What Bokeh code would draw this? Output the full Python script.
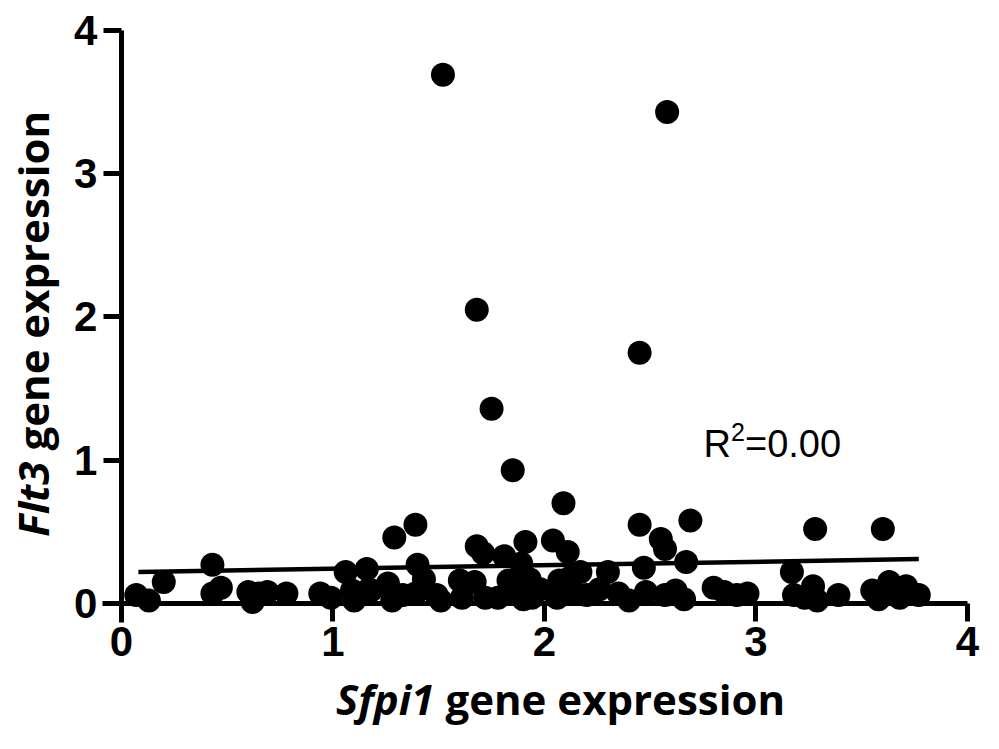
import math
from bokeh.plotting import figure
from bokeh.models import Label, FixedTicker, Range1d, ColumnDataSource, LinearAxis
from bokeh.embed import file_html
from bokeh.resources import INLINE

# Sfpi1 (x) vs Flt3 (y) gene expression
sfpi1 = [0.07, 0.13, 0.20, 0.43, 0.43, 0.47, 0.60, 0.62, 0.65, 0.69, 0.78, 0.94, 0.99,
         1.06, 1.16, 1.09, 1.17, 1.10, 1.18, 1.26, 1.29, 1.39, 1.40, 1.33, 1.28, 1.43,
         1.39, 1.49, 1.51, 1.60, 1.61, 1.68, 1.71, 1.67, 1.72, 1.81, 1.83, 1.78, 1.91,
         1.89, 1.86, 1.90, 1.93, 2.09, 2.04, 2.11, 2.45, 2.55, 2.57, 2.47, 2.07, 2.17,
         2.30, 2.26, 2.35, 2.48, 1.94, 2.06, 2.20, 2.57, 1.98, 2.13, 2.40, 2.12,
         2.69, 2.67, 2.62, 2.66, 2.80, 2.85, 2.91, 2.96, 3.17, 3.18,
         3.28, 3.60, 3.27, 3.29, 3.39, 3.55, 3.63, 3.58, 3.71, 3.68, 3.77, 3.23,
         1.52, 2.58, 1.68, 1.75, 1.85, 2.45]
flt3 = [0.06, 0.02, 0.15, 0.27, 0.07, 0.11, 0.08, 0.01, 0.07, 0.08, 0.07, 0.07, 0.04,
        0.22, 0.24, 0.09, 0.10, 0.02, 0.09, 0.14, 0.46, 0.55, 0.27, 0.06, 0.02, 0.17,
        0.07, 0.06, 0.02, 0.16, 0.04, 0.40, 0.35, 0.15, 0.04, 0.33, 0.16, 0.04, 0.43,
        0.28, 0.09, 0.03, 0.17, 0.70, 0.44, 0.36, 0.55, 0.45, 0.38, 0.25, 0.16, 0.22,
        0.22, 0.10, 0.07, 0.08, 0.04, 0.04, 0.06, 0.06, 0.10, 0.09, 0.02, 0.18,
        0.58, 0.29, 0.09, 0.03, 0.11, 0.08, 0.06, 0.07, 0.22, 0.06,
        0.52, 0.52, 0.12, 0.02, 0.06, 0.09, 0.15, 0.03, 0.12, 0.04, 0.06, 0.04,
        3.69, 3.43, 2.05, 1.36, 0.93, 1.75]

# linear fit line (end points)
fit_x = [0.08, 3.77]
fit_y = [0.22, 0.31]

ticks = [0, 1, 2, 3, 4]
x_title_italic = "Sfpi1"
y_title_italic = "Flt3"
title_rest = "gene expression"
r2_parts = ["R", "2", "=0.00"]

p = figure(width=983, height=733,
           x_range=Range1d(-0.572, 4.076), y_range=Range1d(-0.9075, 4.209),
           x_axis_type=None, y_axis_type=None,
           output_backend="svg", toolbar_location=None,
           min_border_left=0, min_border_right=0, min_border_top=0, min_border_bottom=0)
p.outline_line_color = None
p.background_fill_color = "white"
p.border_fill_color = "white"

xaxis = LinearAxis(fixed_location=0, bounds=(-0.09, 4.0))
yaxis = LinearAxis(fixed_location=0, bounds=(-0.13, 4.0))
for ax in (xaxis, yaxis):
    ax.ticker = FixedTicker(ticks=ticks)
    ax.axis_line_width = 5
    ax.axis_line_color = "black"
    ax.major_tick_line_width = 5
    ax.major_tick_line_color = "black"
    ax.major_tick_in = 0
    ax.major_tick_out = 18
    ax.minor_tick_line_color = None
    ax.major_label_text_font = "Liberation Sans"
    ax.major_label_text_font_style = "bold"
    ax.major_label_text_font_size = "42px"
    ax.major_label_text_color = "black"
    ax.major_label_standoff = 6
p.add_layout(xaxis, "below")
p.add_layout(yaxis, "left")

src = ColumnDataSource(dict(x=sfpi1, y=flt3))
p.scatter("x", "y", source=src, size=24, marker="circle",
          fill_color="black", line_color=None)
p.line(fit_x, fit_y, line_width=4.5, line_color="black")

tf = dict(text_font="Open Sans", text_font_size="42px", text_color="black")
p.add_layout(Label(x=1.48, y=-0.666, text=x_title_italic, text_align="right",
                   text_baseline="alphabetic", text_font_style="bold italic", **tf))
p.add_layout(Label(x=1.48, y=-0.666, text=title_rest, text_align="left", x_offset=11,
                   text_baseline="alphabetic", text_font_style="bold", **tf))
p.add_layout(Label(x=-0.422, y=0.991, text=y_title_italic, text_align="right", angle=math.pi / 2,
                   text_baseline="middle", text_font_style="bold italic", **tf))
p.add_layout(Label(x=-0.422, y=0.991, text=title_rest, text_align="left", angle=math.pi / 2,
                   y_offset=11, text_baseline="middle", text_font_style="bold", **tf))

rf = dict(text_font="Liberation Sans", text_color="black", text_align="left",
          text_baseline="alphabetic")
p.add_layout(Label(x=2.752, y=1.11, text=r2_parts[0], text_font_size="38px", **rf))
p.add_layout(Label(x=2.752, y=1.11, text=r2_parts[1], text_font_size="25px",
                   x_offset=27.5, y_offset=12, **rf))
p.add_layout(Label(x=2.752, y=1.11, text=r2_parts[2], text_font_size="38px",
                   x_offset=41.5, **rf))

open("out.html", "w").write(file_html(p, INLINE))
